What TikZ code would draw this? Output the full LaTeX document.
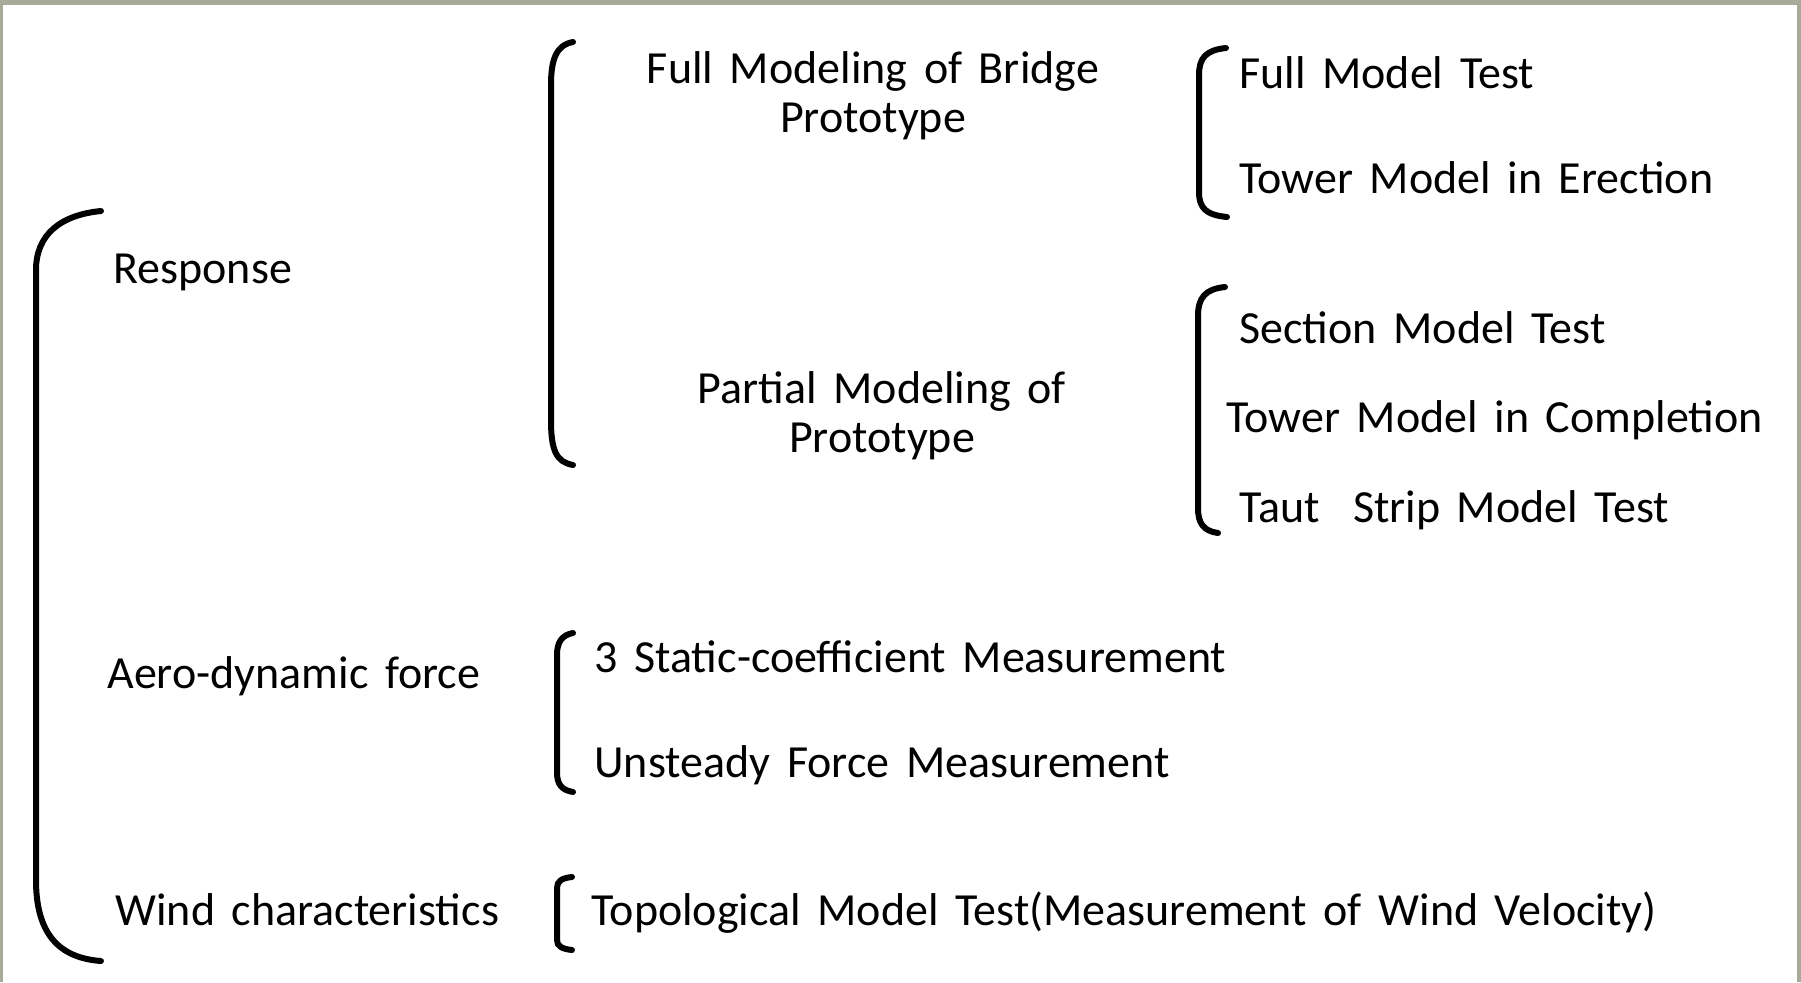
\documentclass[tikz,border=0pt]{standalone}
\usepackage{fontspec}
\setmainfont{Carlito}[WordSpace=1.6]
\usepackage{tikz}

\definecolor{framegray}{RGB}{166,170,152}
\tikzset{
	lbl/.style={anchor=base west, inner sep=0pt, font=\fontsize{23}{24.5}\selectfont},
	midlbl/.style={anchor=base, align=center, inner sep=0pt, font=\fontsize{23}{24.5}\selectfont},
	brk/.style={line width=3pt, line cap=round},
}

\begin{document}
\begin{tikzpicture}[x=0.5pt,y=-0.5pt]
% frame
\fill[framegray] (0,0) rectangle (1801,982);
\fill[white] (3,5) rectangle (1797,982);

% first level
\node[lbl] (resp) at (113,283) {Response};
\node[lbl] (aero) at (107,688) {Aero-dynamic force};
\node[lbl] (wind) at (115,925) {Wind characteristics};

% second level (base = last line)
\node[midlbl] (full) at (873,132) {Full Modeling of Bridge\\Prototype};
\node[midlbl] (part) at (882,452) {Partial Modeling of\\Prototype};
\node[lbl] (stat) at (594,672) {3 Static-coefficient Measurement};
\node[lbl] (unst) at (594,777) {Unsteady Force Measurement};
\node[lbl] (topo) at (591,925) {Topological Model Test(Measurement of Wind Velocity)};

% third level
\node[lbl] (fmt) at (1239,88) {Full Model Test};
\node[lbl] (tme) at (1239,193) {Tower Model in Erection};
\node[lbl] (smt) at (1239,343) {Section Model Test};
\node[lbl] (tmc) at (1226,432) {Tower Model in Completion};
\node[lbl] (tsm) at (1239,522) {Taut\ \ Strip Model Test};

% brackets
\draw[brk] (101,211) .. controls (60,215) and (36,235) .. (36,270)
	-- (36,880) .. controls (36,935) and (60,958) .. (101,961);
\draw[brk] (573,42) .. controls (556,45) and (551,60) .. (551,85)
	-- (551,420) .. controls (551,450) and (556,462) .. (573,465);
\draw[brk] (1226,48) .. controls (1206,50) and (1199,58) .. (1199,75)
	-- (1199,192) .. controls (1199,208) and (1206,215) .. (1227,217);
\draw[brk] (1225,287) .. controls (1205,289) and (1198,298) .. (1198,316)
	-- (1198,508) .. controls (1198,524) and (1204,531) .. (1218,533);
\draw[brk] (573,633) .. controls (562,635) and (557,642) .. (557,655)
	-- (557,772) .. controls (557,785) and (562,790) .. (573,792);
\draw[brk] (572,877) .. controls (562,878) and (557,881) .. (557,888)
	-- (557,940) .. controls (557,946) and (562,949) .. (572,950);
\end{tikzpicture}
\end{document}
